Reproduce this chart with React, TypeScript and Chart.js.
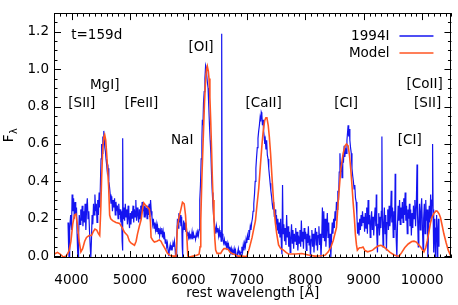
import { useEffect, useRef } from 'react';
import { Chart, registerables } from 'chart.js';

Chart.register(...registerables);

const xTickValues = [4000, 5000, 6000, 7000, 8000, 9000, 10000];
const yTickValues = [0, 0.2, 0.4, 0.6, 0.8, 1.0, 1.2];
const xRange = [3700, 10500];
const yRange = [-0.01, 1.3];
const seriesNames = ['1994I', 'Model'];
const seriesColors = ['#1414f0', '#ff5522'];

// observed spectrum of SN 1994I (rest wavelength [Å], flux)
const observedFlux: [number, number][] = [
  [3940,0.18],[3950,0.05],[3958,-0.01],[3968,0.15],[3985,0.22],[4000,0.14],[4010,0.33],[4022,0.24],[4035,0.31],[4048,0.20],
  [4060,0.29],[4072,0.22],[4085,0.26],[4095,0.12],[4105,0.02],[4112,-0.01],[4120,0.10],[4132,0.22],[4145,0.17],[4158,0.25],
  [4170,0.19],[4182,0.27],[4195,0.16],[4208,0.24],[4220,0.18],[4232,0.28],[4245,0.14],[4258,0.26],[4270,0.31],[4282,0.20],
  [4295,0.24],[4308,0.13],[4320,0.05],[4330,-0.01],[4340,0.08],[4352,0.22],[4364,0.17],[4376,0.28],[4388,0.22],[4400,0.33],
  [4412,0.24],[4424,0.28],[4436,0.18],[4448,0.30],[4460,0.22],[4472,0.34],[4484,0.26],[4495,0.40],[4505,0.52],[4515,0.60],
  [4525,0.55],[4535,0.64],[4545,0.60],[4552,0.67],[4560,0.62],[4570,0.58],[4580,0.56],[4590,0.52],[4600,0.49],[4612,0.45],
  [4625,0.47],[4638,0.40],[4650,0.37],[4662,0.33],[4675,0.28],[4688,0.32],[4700,0.24],[4712,0.30],[4724,0.26],[4736,0.31],
  [4748,0.22],[4760,0.29],[4772,0.24],[4784,0.27],[4796,0.20],[4808,0.28],[4820,0.22],[4832,0.25],[4844,0.18],[4856,0.24],
  [4866,0.08],[4872,0.03],[4878,0.63],[4884,0.20],[4896,0.26],[4908,0.19],[4920,0.28],[4932,0.21],[4944,0.25],[4956,0.17],
  [4968,0.27],[4980,0.20],[4992,0.15],[5004,0.23],[5016,0.17],[5028,0.24],[5040,0.20],[5052,0.27],[5064,0.18],[5076,0.25],
  [5088,0.21],[5100,0.30],[5112,0.19],[5124,0.26],[5136,0.22],[5148,0.18],[5160,0.25],[5172,0.20],[5184,0.27],[5196,0.22],
  [5208,0.29],[5220,0.24],[5232,0.28],[5244,0.21],[5256,0.27],[5268,0.23],[5280,0.26],[5292,0.20],[5304,0.27],[5316,0.22],
  [5328,0.28],[5340,0.21],[5352,0.30],[5364,0.24],[5376,0.21],[5388,0.17],[5400,0.20],[5412,0.15],[5424,0.18],[5436,0.14],
  [5448,0.17],[5460,0.13],[5472,0.16],[5484,0.12],[5496,0.15],[5508,0.11],[5520,0.14],[5532,0.12],[5544,0.15],[5556,0.10],
  [5568,0.13],[5580,0.09],[5592,0.11],[5604,0.07],[5616,0.09],[5628,0.05],[5640,0.07],[5652,0.03],[5664,0.0],[5676,0.04],
  [5688,0.06],[5700,0.03],[5712,0.05],[5724,0.04],[5736,0.07],[5748,0.05],[5760,0.08],[5772,0.04],[5782,-0.01],[5790,-0.01],
  [5800,0.10],[5812,0.20],[5824,0.15],[5836,0.23],[5848,0.18],[5860,0.22],[5872,0.16],[5884,0.21],[5894,0.05],[5900,-0.01],
  [5906,0.12],[5918,0.19],[5930,0.14],[5942,0.18],[5954,0.13],[5966,0.15],[5978,0.11],[5990,0.13],[6002,0.10],[6014,0.12],
  [6026,0.09],[6038,0.11],[6050,0.10],[6062,0.13],[6074,0.09],[6086,0.12],[6098,0.10],[6110,0.11],[6122,0.09],[6134,0.12],
  [6146,0.10],[6158,0.13],[6170,0.11],[6182,0.14],[6194,0.30],[6206,0.38],[6218,0.52],[6230,0.62],[6238,0.73],[6248,0.70],
  [6258,0.82],[6270,0.88],[6282,0.95],[6294,1.02],[6302,1.01],[6312,0.97],[6324,0.93],[6336,0.90],[6348,0.80],[6360,0.70],
  [6372,0.62],[6384,0.55],[6396,0.43],[6408,0.34],[6420,0.27],[6432,0.21],[6444,0.18],[6456,0.15],[6468,0.12],[6480,0.16],
  [6492,0.13],[6504,0.15],[6516,0.11],[6528,0.14],[6540,0.10],[6552,0.13],[6560,0.08],[6566,0.20],[6572,1.19],[6578,0.12],
  [6590,0.09],[6602,0.07],[6614,0.09],[6626,0.06],[6638,0.08],[6650,0.05],[6662,0.07],[6674,0.04],[6686,0.06],[6698,0.03],
  [6710,0.05],[6722,0.02],[6734,0.04],[6746,0.01],[6758,0.03],[6770,0.02],[6782,0.04],[6794,0.01],[6806,0.03],[6818,0.0],
  [6830,-0.01],[6842,0.02],[6854,0.04],[6866,0.01],[6878,0.03],[6890,0.0],[6902,0.02],[6914,0.05],[6926,0.02],[6938,0.06],
  [6950,0.03],[6962,0.07],[6974,0.05],[6986,0.09],[6998,0.07],[7010,0.11],[7022,0.09],[7034,0.14],[7046,0.12],[7058,0.16],
  [7070,0.14],[7082,0.18],[7094,0.20],[7106,0.24],[7118,0.28],[7130,0.33],[7142,0.40],[7154,0.47],[7166,0.53],[7178,0.58],
  [7190,0.63],[7202,0.67],[7214,0.70],[7226,0.74],[7236,0.72],[7246,0.77],[7256,0.76],[7266,0.70],[7276,0.73],[7286,0.67],
  [7296,0.64],[7306,0.60],[7316,0.62],[7326,0.57],[7338,0.62],[7350,0.54],[7362,0.52],[7374,0.47],[7386,0.43],[7398,0.39],
  [7410,0.35],[7422,0.32],[7434,0.28],[7446,0.25],[7458,0.29],[7470,0.21],[7482,0.25],[7494,0.17],[7506,0.22],[7518,0.14],
  [7530,0.20],[7542,0.12],[7554,0.18],[7566,0.10],[7578,0.20],[7590,0.06],[7600,0.01],[7610,0.38],[7620,0.12],[7632,0.17],
  [7644,0.08],[7656,0.15],[7668,0.06],[7680,0.22],[7692,0.10],[7704,0.16],[7716,0.05],[7728,0.13],[7740,0.02],[7752,0.10],
  [7764,0.17],[7776,0.07],[7788,0.14],[7800,0.04],[7812,0.12],[7824,0.08],[7836,0.15],[7848,0.06],[7860,0.13],[7872,0.03],
  [7884,0.11],[7896,0.07],[7908,0.14],[7920,0.05],[7932,0.19],[7944,0.08],[7956,0.13],[7968,0.04],[7980,0.15],[7992,0.09],
  [8004,0.13],[8016,0.03],[8028,0.12],[8040,0.07],[8052,0.16],[8064,0.06],[8076,0.11],[8088,-0.01],[8100,0.09],[8112,0.14],
  [8124,0.05],[8136,0.12],[8148,0.02],[8160,0.10],[8172,0.15],[8184,0.06],[8196,0.13],[8208,0.03],[8220,0.11],[8232,0.16],
  [8244,0.06],[8256,0.12],[8268,-0.01],[8280,0.09],[8292,0.26],[8304,0.10],[8316,0.24],[8328,0.08],[8340,0.20],[8352,0.05],
  [8364,0.14],[8376,0.23],[8388,0.10],[8400,0.18],[8412,0.04],[8424,0.12],[8436,-0.01],[8448,0.10],[8460,0.18],[8472,0.12],
  [8484,0.20],[8496,0.15],[8508,0.24],[8520,0.19],[8532,0.29],[8544,0.25],[8556,0.35],[8568,0.30],[8580,0.45],[8592,0.55],
  [8604,0.45],[8616,0.50],[8628,0.42],[8640,0.54],[8652,0.50],[8664,0.59],[8676,0.53],[8688,0.58],[8700,0.55],[8712,0.62],
  [8722,0.66],[8732,0.70],[8742,0.64],[8752,0.68],[8762,0.62],[8774,0.58],[8786,0.55],[8798,0.47],[8810,0.43],[8822,0.40],
  [8834,0.36],[8846,0.38],[8858,0.31],[8870,0.29],[8882,0.22],[8894,0.12],[8906,0.18],[8918,0.11],[8930,0.20],[8942,0.14],
  [8954,0.22],[8966,0.16],[8978,0.24],[8990,0.18],[9002,0.21],[9014,0.13],[9026,0.23],[9038,0.15],[9050,0.26],[9062,0.12],
  [9074,0.30],[9086,0.17],[9098,0.22],[9110,0.10],[9122,0.19],[9134,0.24],[9146,0.14],[9158,0.21],[9170,0.11],[9182,0.20],
  [9194,0.26],[9206,0.16],[9214,0.33],[9222,0.12],[9234,0.02],[9244,0.17],[9256,0.23],[9268,0.11],[9280,0.21],[9292,0.15],
  [9300,0.24],[9310,0.64],[9318,0.20],[9330,0.05],[9340,0.18],[9352,0.26],[9364,0.12],[9376,0.22],[9388,0.03],[9398,0.18],
  [9410,0.25],[9422,0.14],[9434,0.27],[9446,0.16],[9458,0.22],[9469,0.35],[9480,0.18],[9492,0.26],[9504,0.10],[9516,0.24],
  [9528,0.14],[9537,0.44],[9546,0.20],[9556,0.08],[9566,-0.01],[9576,0.16],[9588,0.27],[9600,0.19],[9612,0.30],[9624,0.17],
  [9636,0.26],[9648,0.20],[9660,0.29],[9672,0.18],[9684,0.31],[9696,0.22],[9708,0.34],[9720,0.19],[9732,0.27],[9744,0.12],
  [9756,0.25],[9768,0.20],[9781,0.28],[9790,0.16],[9802,0.25],[9814,0.11],[9826,0.23],[9838,0.15],[9850,0.27],[9862,0.20],
  [9874,0.30],[9886,0.16],[9898,0.26],[9911,0.49],[9920,0.22],[9932,0.05],[9942,0.18],[9954,0.28],[9966,0.14],[9978,0.24],
  [9990,0.31],[10002,0.17],[10014,0.03],[10024,0.20],[10036,0.28],[10048,0.12],[10060,0.30],[10072,0.19],[10084,0.25],[10096,-0.01],
  [10108,0.14],[10120,0.27],[10132,0.18],[10144,0.33],[10156,0.20],[10168,0.30],[10177,0.60],[10186,0.25],[10196,0.02],[10206,0.20],
  [10216,0.10],[10226,-0.01],[10236,0.15],[10246,0.22],[10256,-0.01],[10266,0.12],[10276,0.20],[10286,0.05]
];

// synthetic model spectrum (rest wavelength [Å], flux)
const modelFlux: [number, number][] = [
  [3700,0.01],[3760,0.02],[3810,0.01],[3860,-0.005],[3910,0.0],[3960,0.03],[3990,0.08],[4020,0.17],[4050,0.22],[4075,0.225],
  [4100,0.17],[4130,0.08],[4160,0.023],[4190,0.04],[4225,0.08],[4256,0.10],[4300,0.11],[4341,0.11],[4370,0.13],[4400,0.145],
  [4430,0.14],[4460,0.12],[4482,0.11],[4500,0.25],[4515,0.42],[4535,0.58],[4555,0.64],[4567,0.65],[4585,0.62],[4605,0.53],
  [4620,0.45],[4635,0.37],[4652,0.22],[4670,0.20],[4703,0.19],[4760,0.18],[4822,0.175],[4870,0.15],[4907,0.127],[4958,0.11],
  [4990,0.08],[5020,0.07],[5077,0.058],[5105,0.08],[5128,0.118],[5160,0.16],[5191,0.196],[5215,0.25],[5235,0.285],[5260,0.275],
  [5290,0.265],[5332,0.25],[5350,0.18],[5361,0.10],[5390,0.085],[5417,0.075],[5460,0.08],[5502,0.087],[5530,0.08],[5553,0.066],
  [5600,0.04],[5643,0.014],[5690,0.003],[5740,0.0],[5786,0.0],[5800,0.08],[5813,0.16],[5840,0.21],[5871,0.25],[5898,0.288],
  [5927,0.28],[5950,0.22],[5970,0.12],[5990,0.0],[6020,-0.005],[6080,0.0],[6140,0.005],[6182,0.01],[6200,0.05],[6211,0.19],
  [6230,0.42],[6250,0.60],[6275,0.82],[6295,0.95],[6310,1.0],[6323,1.016],[6340,0.99],[6352,0.95],[6367,0.85],[6381,0.725],
  [6395,0.58],[6408,0.43],[6422,0.30],[6437,0.188],[6452,0.09],[6466,0.032],[6490,0.015],[6551,0.015],[6580,0.03],[6607,0.04],
  [6640,0.04],[6681,0.035],[6715,0.02],[6749,0.014],[6800,0.008],[6851,0.0],[6920,0.0],[6976,-0.002],[7000,0.0],[7040,0.04],
  [7089,0.10],[7120,0.15],[7146,0.188],[7175,0.28],[7202,0.36],[7230,0.48],[7259,0.60],[7280,0.67],[7304,0.725],[7325,0.74],
  [7343,0.74],[7365,0.70],[7384,0.638],[7405,0.55],[7428,0.43],[7457,0.29],[7486,0.18],[7510,0.12],[7542,0.06],[7580,0.04],
  [7627,0.032],[7670,0.02],[7712,0.011],[7826,0.011],[7939,0.014],[8052,0.006],[8166,0.0],[8260,0.002],[8336,0.005],[8392,0.023],
  [8440,0.05],[8477,0.084],[8533,0.153],[8562,0.29],[8590,0.40],[8607,0.465],[8647,0.55],[8680,0.59],[8703,0.60],[8732,0.59],
  [8755,0.54],[8777,0.465],[8800,0.37],[8817,0.29],[8840,0.20],[8856,0.118],[8875,0.06],[8890,0.032],[8910,0.04],[8930,0.045],
  [8960,0.045],[8987,0.049],[9020,0.03],[9066,0.023],[9110,0.028],[9151,0.032],[9200,0.045],[9250,0.055],[9293,0.058],[9340,0.05],
  [9378,0.04],[9450,0.02],[9519,0.006],[9560,0.002],[9604,0.0],[9650,0.02],[9700,0.045],[9760,0.065],[9820,0.078],[9859,0.08],
  [9900,0.075],[9940,0.06],[9973,0.049],[10000,0.035],[10029,0.023],[10060,0.045],[10087,0.084],[10115,0.13],[10143,0.18],[10170,0.21],
  [10201,0.23],[10235,0.242],[10258,0.24],[10290,0.225],[10313,0.205],[10340,0.165],[10371,0.118],[10410,0.07],[10445,0.032],[10490,0.0],
  [10500,-0.005]
];

// line identifications: text, wavelength, flux
const lineLabelTexts = ['t=159d', '[OI]', 'MgI]', '[SII]', '[FeII]', 'NaI', '[CaII]', '[CI]', '[CoII]', '[SII]', '[CI]'];
const lineLabelWl = [4431, 6216, 4567, 4176, 5196, 5893, 7287, 8698, 10041, 10092, 9786];
const lineLabelF = [1.18, 1.115, 0.915, 0.817, 0.817, 0.619, 0.817, 0.817, 0.92, 0.817, 0.619];

const FONT_FAMILY = '"DejaVu Sans", sans-serif';
const FONT_SIZE = 13.5;

const decorPlugin = {
  id: 'idlDecor',
  afterDraw(chart: any) {
    const { ctx, chartArea: a, scales } = chart;
    const xs = scales.x;
    const ys = scales.y;
    ctx.save();
    ctx.strokeStyle = '#000';
    ctx.fillStyle = '#000';
    ctx.lineWidth = 1;
    // frame
    ctx.strokeRect(Math.round(a.left) + 0.5, Math.round(a.top) + 0.5, Math.round(a.right - a.left) - 1, Math.round(a.bottom - a.top) - 1);
    const major = 7;
    const minor = 3.5;
    ctx.beginPath();
    for (let v = xRange[0]; v <= xRange[1]; v += 100) {
      const isMajor = xTickValues.includes(v);
      const len = isMajor ? major : minor;
      const px = Math.round(xs.getPixelForValue(v)) + 0.5;
      ctx.moveTo(px, a.bottom); ctx.lineTo(px, a.bottom - len);
      ctx.moveTo(px, a.top); ctx.lineTo(px, a.top + len);
    }
    for (let k = 0; k <= 26; k++) {
      const v = k * 0.05;
      const isMajor = k % 4 === 0;
      const len = isMajor ? major : minor;
      const py = Math.round(ys.getPixelForValue(v)) + 0.5;
      ctx.moveTo(a.left, py); ctx.lineTo(a.left + len, py);
      ctx.moveTo(a.right, py); ctx.lineTo(a.right - len, py);
    }
    ctx.stroke();

    // line identification labels
    ctx.font = `${FONT_SIZE}px ${FONT_FAMILY}`;
    ctx.textAlign = 'center';
    ctx.textBaseline = 'middle';
    lineLabelTexts.forEach((t, i) => {
      ctx.fillText(t, xs.getPixelForValue(lineLabelWl[i]), ys.getPixelForValue(lineLabelF[i]));
    });

    // legend (text then line sample)
    ctx.textAlign = 'right';
    seriesNames.forEach((name, i) => {
      const y = a.top + 23 + i * 17;
      ctx.fillStyle = '#000';
      ctx.fillText(name, a.right - 62, y);
      ctx.strokeStyle = seriesColors[i];
      ctx.lineWidth = 1.5;
      ctx.beginPath();
      ctx.moveTo(a.right - 52, y);
      ctx.lineTo(a.right - 18, y);
      ctx.stroke();
    });

    // y-axis title F_lambda
    ctx.fillStyle = '#000';
    ctx.translate(13, (a.top + a.bottom) / 2);
    ctx.rotate(-Math.PI / 2);
    ctx.textAlign = 'left';
    ctx.textBaseline = 'alphabetic';
    ctx.font = `${FONT_SIZE}px ${FONT_FAMILY}`;
    const fw = ctx.measureText('F').width;
    ctx.font = `${FONT_SIZE * 0.72}px ${FONT_FAMILY}`;
    const lw = ctx.measureText('λ').width;
    const start = -(fw + lw) / 2;
    ctx.font = `${FONT_SIZE}px ${FONT_FAMILY}`;
    ctx.fillText('F', start, 0);
    ctx.font = `${FONT_SIZE * 0.72}px ${FONT_FAMILY}`;
    ctx.fillText('λ', start + fw + 0.5, 3.5);
    ctx.restore();
  },
};

export default function App() {
  const ref = useRef<HTMLCanvasElement | null>(null);
  useEffect(() => {
    if (!ref.current) return;
    const font = { family: FONT_FAMILY, size: FONT_SIZE };
    const chart = new Chart(ref.current, {
      type: 'line',
      data: {
        datasets: [
          {
            label: seriesNames[0],
            data: observedFlux.map(([x, y]) => ({ x, y })),
            borderColor: seriesColors[0],
            borderWidth: 1.2,
            pointRadius: 0,
            order: 1,
          },
          {
            label: seriesNames[1],
            data: modelFlux.map(([x, y]) => ({ x, y })),
            borderColor: seriesColors[1],
            borderWidth: 1.6,
            pointRadius: 0,
            order: 0,
          },
        ],
      },
      options: {
        animation: false,
        responsive: false,
        devicePixelRatio: 1,
        layout: { padding: { top: 6, right: 4, left: 0, bottom: 0 } },
        plugins: { legend: { display: false }, tooltip: { enabled: false } },
        elements: { line: { tension: 0 } },
        scales: {
          x: {
            type: 'linear',
            min: xRange[0],
            max: xRange[1],
            afterBuildTicks: (s: any) => { s.ticks = xTickValues.map((v) => ({ value: v })); },
            afterFit: (s: any) => { s.height = 47; },
            grid: { display: false, drawTicks: false },
            border: { display: false },
            ticks: { font, color: '#000', padding: 14, maxRotation: 0, autoSkip: false, callback: (v: any) => String(v) },
            title: { display: true, text: 'rest wavelength [Å]', font, color: '#000', padding: { top: 0, bottom: 3 } },
          },
          y: {
            type: 'linear',
            min: yRange[0],
            max: yRange[1],
            afterBuildTicks: (s: any) => { s.ticks = yTickValues.map((v) => ({ value: v })); },
            afterFit: (s: any) => { s.width = 54; },
            grid: { display: false, drawTicks: false },
            border: { display: false },
            ticks: { font, color: '#000', padding: 5, autoSkip: false, callback: (v: any) => Number(v).toFixed(1) },
          },
        },
      },
      plugins: [decorPlugin],
    } as any);
    return () => chart.destroy();
  }, []);
  return (
    <div style={{ position: 'absolute', left: 0, top: 0, width: 458, height: 305, background: '#fff' }}>
      <canvas ref={ref} width={458} height={305} style={{ display: 'block' }} />
    </div>
  );
}
